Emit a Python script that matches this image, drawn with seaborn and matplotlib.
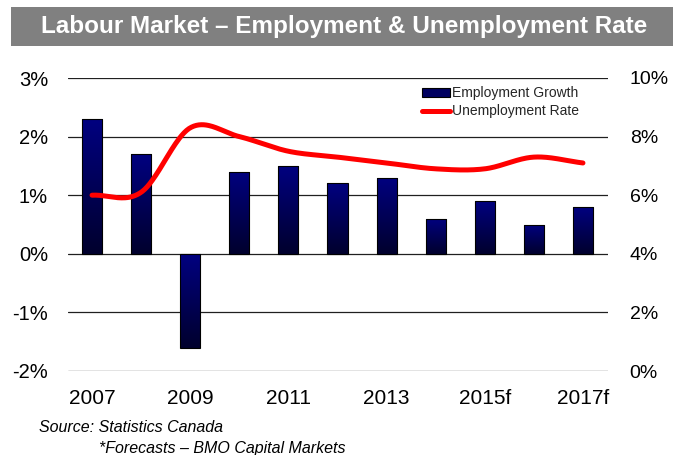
import numpy as np
import pandas as pd
import matplotlib
matplotlib.use("Agg")
import matplotlib.pyplot as plt
from matplotlib.patches import Rectangle, Patch
from matplotlib.lines import Line2D
import seaborn as sns

# Annual data
years = ["2007", "2008", "2009", "2010", "2011", "2012", "2013",
         "2014", "2015f", "2016f", "2017f"]
employment_growth = [2.3, 1.7, -1.6, 1.4, 1.5, 1.2, 1.3, 0.6, 0.9, 0.5, 0.8]
unemployment_rate = [6.0, 6.1, 8.3, 8.0, 7.5, 7.3, 7.1, 6.9, 6.9, 7.3, 7.1]

left_ticks = [-2, -1, 0, 1, 2, 3]
right_ticks = [0, 2, 4, 6, 8, 10]
shown_years = ["2007", "2009", "2011", "2013", "2015f", "2017f"]

title = "Labour Market \u2013 Employment & Unemployment Rate"
source_1 = "Source: Statistics Canada"
source_2 = "*Forecasts \u2013 BMO Capital Markets"

sns.set_theme(style="white")
plt.rcParams["font.family"] = ["Liberation Sans", "DejaVu Sans"]

W, H = 673, 455
fig = plt.figure(figsize=(W / 100, H / 100), dpi=100)
fig.patch.set_facecolor("white")

# plot area in pixels
px_l, px_r, px_t, px_b = 67.5, 607.5, 78.0, 371.0
ax = fig.add_axes([px_l / W, 1 - px_b / H, (px_r - px_l) / W, (px_b - px_t) / H])

df = pd.DataFrame({"year": years, "growth": employment_growth})
sns.barplot(data=df, x="year", y="growth", ax=ax, width=0.41,
            color="#000080", saturation=1, edgecolor="black", linewidth=0.8,
            zorder=3)

# vertical navy-to-dark gradient inside every bar
top_rgb = np.array([0, 0, 128]) / 255
bot_rgb = np.array([0, 0, 45]) / 255
t = np.linspace(0, 1, 256)[:, None]
grad = (bot_rgb[None, :] * (1 - t) + top_rgb[None, :] * t)[:, None, :]
for p in list(ax.patches):
    x0 = p.get_x()
    w = p.get_width()
    y0 = p.get_y()
    h = p.get_height()
    lo, hi = min(y0, y0 + h), max(y0, y0 + h)
    im = ax.imshow(grad, extent=(x0, x0 + w, lo, hi), origin="lower",
                   aspect="auto", zorder=2.5, interpolation="bilinear")
    im.set_clip_path(p)
    p.set_facecolor("none")
    p.set_zorder(3)

ax.set_xlim(-0.5, len(years) - 0.5)
ax.set_ylim(-2, 3)
ax.set_yticks(left_ticks)
ax.set_yticklabels([f"{v}%" for v in left_ticks])
ax.set_xticks([years.index(y) for y in shown_years])
ax.set_xticklabels(shown_years)
ax.set_xlabel("")
ax.set_ylabel("")
ax.yaxis.grid(True, color="#202020", lw=0.9, zorder=1)
ax.set_axisbelow(True)
for s in ax.spines.values():
    s.set_visible(False)
ax.tick_params(axis="both", length=0, labelsize=15, colors="black")
ax.tick_params(axis="y", pad=14, labelsize=14.5)
ax.tick_params(axis="x", pad=13)

# smoothed unemployment line on the right axis (cubic Hermite through each point)
ax2 = ax.twinx()
pts = np.array(unemployment_rate, dtype=float)
n = len(pts)
m = np.zeros(n)
m[1:-1] = (pts[2:] - pts[:-2]) / 2
m[0] = pts[1] - pts[0]
m[-1] = pts[-1] - pts[-2]
xs, ys = [], []
for i in range(n - 1):
    s = np.linspace(0, 1, 40, endpoint=(i == n - 2))
    h00 = 2 * s**3 - 3 * s**2 + 1
    h10 = s**3 - 2 * s**2 + s
    h01 = -2 * s**3 + 3 * s**2
    h11 = s**3 - s**2
    xs.extend(i + s)
    ys.extend(h00 * pts[i] + h10 * m[i] + h01 * pts[i + 1] + h11 * m[i + 1])
sns.lineplot(x=np.array(xs), y=np.array(ys), ax=ax2, color="#ff0000",
             lw=3.6, sort=False, estimator=None, solid_capstyle="round")
ax2.set_xlim(-0.5, len(years) - 0.5)
ax2.set_ylim(0, 10)
ax2.set_yticks(right_ticks)
ax2.set_yticklabels([f"{v}%" for v in right_ticks])
ax2.set_ylabel("")
ax2.grid(False)
for s in ax2.spines.values():
    s.set_visible(False)
ax2.tick_params(axis="y", length=0, labelsize=14, pad=16, colors="black")

handles = [Patch(facecolor="#000060", edgecolor="black", lw=0.8),
           Line2D([], [], color="#ff0000", lw=3.6)]
ax2.legend(handles, ["Employment Growth", "Unemployment Rate"],
           loc="upper left", bbox_to_anchor=(422 / W, 1 - 86 / H),
           bbox_transform=fig.transFigure, frameon=False, fontsize=10,
           handlelength=2.0, handleheight=0.6, handletextpad=0.15,
           labelspacing=0.3, borderpad=0, borderaxespad=0)

# title banner
fig.patches.append(Rectangle((11 / W, 1 - 46 / H), (W - 11) / W, 39 / H,
                             transform=fig.transFigure, facecolor="#808080",
                             edgecolor="none", zorder=0))
fig.text(344 / W, 1 - 26.5 / H, title, ha="center", va="center",
         color="white", fontsize=17.5, fontweight="bold")

fig.text(39 / W, 1 - 428 / H, source_1, ha="left", va="center",
         fontsize=11.5, style="italic", color="black")
fig.text(99 / W, 1 - 448 / H, source_2, ha="left", va="center",
         fontsize=11.5, style="italic", color="black")

fig.savefig("out.png", dpi=100)
